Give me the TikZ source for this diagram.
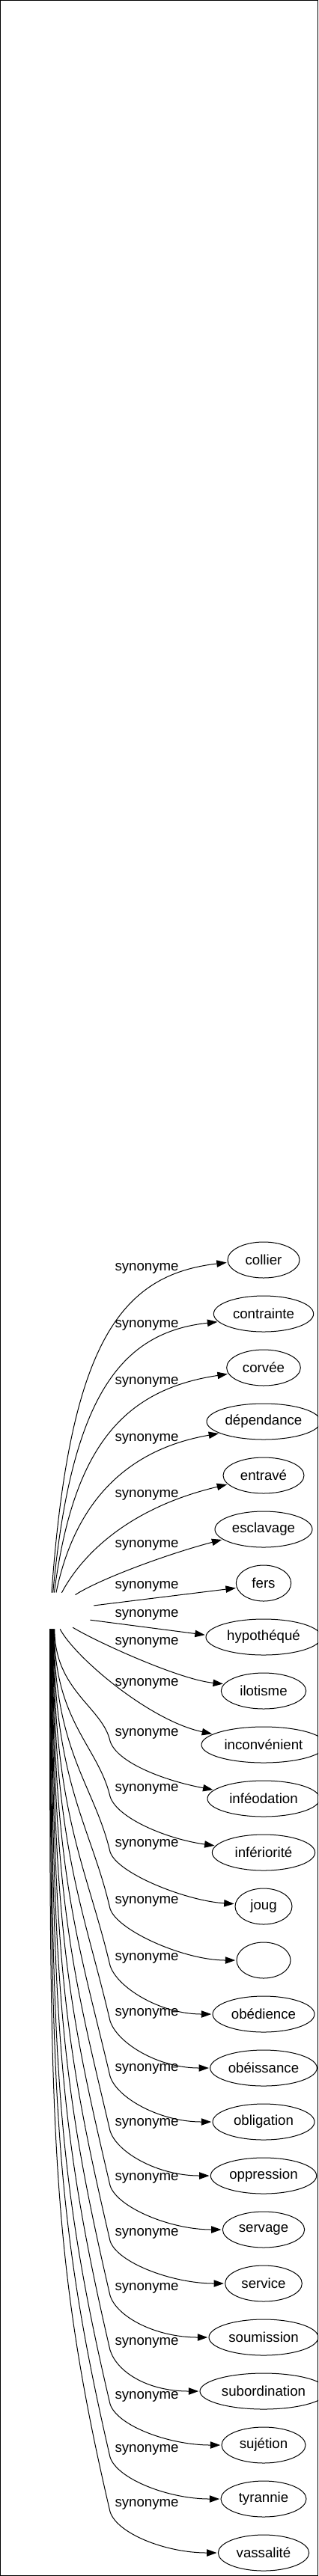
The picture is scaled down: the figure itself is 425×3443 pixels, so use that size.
\documentclass[tikz,border=0pt]{standalone}
\usepackage{fontspec}
\setmainfont{Liberation Sans}
\usetikzlibrary{arrows.meta,shapes.geometric,positioning}

\begin{document}
\begin{tikzpicture}[x=0.75pt,y=-0.75pt,>={Triangle[length=10pt,width=7pt]},shorten >=1pt,auto,node distance=54pt,
    line width=0.75pt,font=\fontsize{14pt}{17pt}\selectfont,
    word/.style={ellipse,draw,minimum height=36pt,inner sep=0pt},
    rel/.style={anchor=west,inner sep=0pt}]
    \useasboundingbox (0,0) rectangle (425,3443);
    \clip (0,0) rectangle (425,3443);
    \draw[shorten >=0pt] (0.5,0.5) rectangle (424.5,3442.5);

    \node[word,draw=none,minimum width=78pt] (w0) at (75,2153) {};

    \node[word,minimum width=72pt]    (w1)  at (352,1684)    {collier};
    \node[word,minimum width=100pt]   (w2)  [below of=w1]    {contrainte};
    \node[word,minimum width=74pt]    (w3)  [below of=w2]    {corvée};
    \node[word,minimum width=114pt]   (w4)  [below of=w3]    {dépendance};
    \node[word,minimum width=81pt]    (w5)  [below of=w4]    {entravé};
    \node[word,minimum width=97.5pt]  (w6)  [below of=w5]    {esclavage};
    \node[word,minimum width=55pt]    (w7)  [below of=w6]    {fers};
    \node[word,minimum width=115.5pt] (w8)  [below of=w7]    {hypothéqué};
    \node[word,minimum width=85pt]    (w9)  [below of=w8]    {ilotisme};
    \node[word,minimum width=124.5pt] (w10) [below of=w9]    {inconvénient};
    \node[word,minimum width=112.5pt] (w11) [below of=w10]   {inféodation};
    \node[word,minimum width=103pt]   (w12) [below of=w11]   {infériorité};
    \node[word,minimum width=57pt]    (w13) [below of=w12]   {joug};
    \node[word,minimum width=54pt]    (w14) [below of=w13]   {};
    \node[word,minimum width=102pt]   (w15) [below of=w14]   {obédience};
    \node[word,minimum width=107pt]   (w16) [below of=w15]   {obéissance};
    \node[word,minimum width=102pt]   (w17) [below of=w16]   {obligation};
    \node[word,minimum width=106pt]   (w18) [below of=w17]   {oppression};
    \node[word,minimum width=82pt]    (w19) [below of=w18]   {servage};
    \node[word,minimum width=77pt]    (w20) [below of=w19]   {service};
    \node[word,minimum width=109.5pt] (w21) [below of=w20]   {soumission};
    \node[word,minimum width=127.5pt] (w22) [below of=w21]   {subordination};
    \node[word,minimum width=84pt]    (w23) [below of=w22]   {sujétion};
    \node[word,minimum width=85.5pt]  (w24) [below of=w23]   {tyrannie};
    \node[word,minimum width=91pt]    (w25) [below of=w24]   {vassalité};

    \node[rel] (l1)  at (153,1695) {synonyme};
    \node[rel] (l2)  at (153,1771) {synonyme};
    \node[rel] (l3)  at (153,1847) {synonyme};
    \node[rel] (l4)  at (153,1923) {synonyme};
    \node[rel] (l5)  at (153,1998) {synonyme};
    \node[rel] (l6)  at (153,2065) {synonyme};
    \node[rel] (l7)  at (153,2120) {synonyme};
    \node[rel] (l8)  at (153,2158) {synonyme};
    \node[rel] (l9)  at (153,2195) {synonyme};
    \node[rel] (l10) at (153,2250) {synonyme};
    \node[rel] (l11) at (153,2317) {synonyme};
    \node[rel] (l12) at (153,2391) {synonyme};
    \node[rel] (l13) at (153,2465) {synonyme};
    \node[rel] (l14) at (153,2541) {synonyme};
    \node[rel] (l15) at (153,2617) {synonyme};
    \node[rel] (l16) at (153,2691) {synonyme};
    \node[rel] (l17) at (153,2765) {synonyme};
    \node[rel] (l18) at (153,2838) {synonyme};
    \node[rel] (l19) at (153,2911) {synonyme};
    \node[rel] (l20) at (153,2985) {synonyme};
    \node[rel] (l21) at (153,3058) {synonyme};
    \node[rel] (l22) at (153,3131) {synonyme};
    \node[rel] (l23) at (153,3203) {synonyme};
    \node[rel] (l24) at (153,3274) {synonyme};
    \node[rel] (l25) at (153,3347) {synonyme};

    \draw[->] (w0.104) .. controls (93,1796) and (160,1704) .. (w1.184);
    \draw[->] (w0.100) .. controls (95,1868) and (160,1781) .. (w2.190);
    \draw[->] (w0.96) .. controls (97,1940) and (160,1858) .. (w3.190);
    \draw[->] (w0.90) .. controls (99,2012) and (165,1938) .. (w4.195);
    \draw[->] (w0.73) .. controls (106,2084) and (165,2017) .. (w5.194);
    \draw[->] (w0.40) .. controls (130,2112) and (220,2078) .. (w6.194);
    \draw[->] (w0.8) -- (w7.190);
    \draw[->] (w0.-15) -- (w8.178);
    \draw[->] (w0.-45) .. controls (130,2195) and (240,2245) .. (w9.170);
    \draw[->] (w0.-78) .. controls (100,2215) and (200,2300) .. (w10.168);
    \draw[->] (w0.-95) .. controls +(0,82) and +(-10,-45) .. (147,2327) .. controls +(9,29) and +(-65,-12) .. (w11.170);
    \draw[->] (w0.-96) .. controls +(0,123) and +(-16,-67) .. (147,2401) .. controls +(9,29) and +(-65,-9) .. (w12.172);
    \draw[->] (w0.-97) .. controls +(0,164) and +(-21,-89) .. (147,2475) .. controls +(9,29) and +(-65,-4) .. (w13.175);
    \draw[->] (w0.-98) .. controls +(0,206) and +(-26,-112) .. (147,2551) .. controls +(9,29) and +(-70,0) .. (w14.west);
    \draw[->] (w0.-99) .. controls +(0,248) and +(-32,-135) .. (147,2627) .. controls +(9,29) and +(-70,0) .. (w15.west);
    \draw[->] (w0.-100) .. controls +(0,288) and +(-37,-157) .. (147,2701) .. controls +(9,29) and +(-70,0) .. (w16.west);
    \draw[->] (w0.-101) .. controls +(0,329) and +(-42,-179) .. (147,2775) .. controls +(9,29) and +(-70,0) .. (w17.west);
    \draw[->] (w0.-102) .. controls +(0,369) and +(-47,-201) .. (147,2848) .. controls +(9,29) and +(-70,0) .. (w18.west);
    \draw[->] (w0.-103) .. controls +(0,409) and +(-52,-223) .. (147,2921) .. controls +(9,29) and +(-70,0) .. (w19.west);
    \draw[->] (w0.-104) .. controls +(0,450) and +(-57,-245) .. (147,2995) .. controls +(9,29) and +(-70,0) .. (w20.west);
    \draw[->] (w0.-105) .. controls +(0,490) and +(-62,-267) .. (147,3068) .. controls +(9,29) and +(-70,0) .. (w21.west);
    \draw[->] (w0.-106) .. controls +(0,530) and +(-67,-289) .. (147,3141) .. controls +(9,29) and +(-70,0) .. (w22.west);
    \draw[->] (w0.-107) .. controls +(0,570) and +(-73,-311) .. (147,3213) .. controls +(9,29) and +(-70,0) .. (w23.west);
    \draw[->] (w0.-108) .. controls +(0,609) and +(-77,-332) .. (147,3284) .. controls +(9,29) and +(-70,0) .. (w24.west);
    \draw[->] (w0.-109) .. controls +(0,649) and +(-83,-354) .. (147,3357) .. controls +(9,29) and +(-70,0) .. (w25.west);
\end{tikzpicture}
\end{document}
